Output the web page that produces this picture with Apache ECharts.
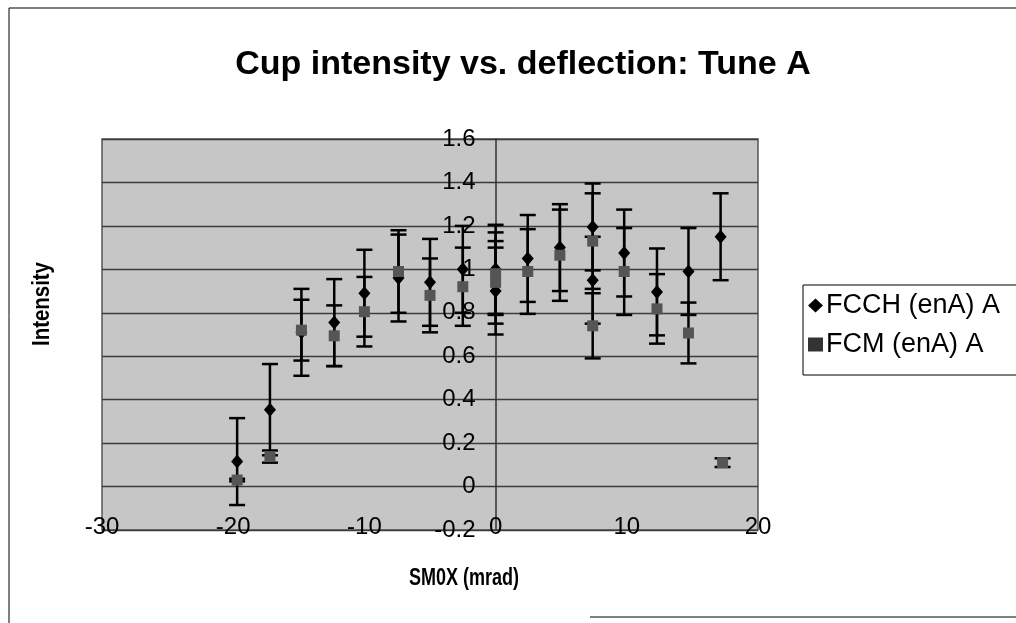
<!DOCTYPE html>
<html>
<head>
<meta charset="utf-8">
<script src="https://cdn.jsdelivr.net/npm/echarts@6/dist/echarts.min.js"></script>
<style>
  html, body { margin: 0; padding: 0; background: #fff; }
  #chart { width: 1016px; height: 623px; }
</style>
</head>
<body>
<div id="chart"></div>
<script>
// values
const fcchX = [-19.7, -17.2, -14.8, -12.3, -10.0, -7.4, -5.0, -2.5, 0, 0, 2.45, 4.9, 7.4, 7.4, 9.8, 12.3, 14.7, 17.15]
const fcchY = [0.115, 0.354, 0.71, 0.755, 0.89, 0.96, 0.94, 1.0, 1.0, 0.9, 1.05, 1.10, 1.195, 0.95, 1.075, 0.896, 0.99, 1.15]
const fcchErr = [0.2, 0.21, 0.2, 0.2, 0.2, 0.2, 0.2, 0.2, 0.205, 0.2, 0.2, 0.2, 0.2, 0.2, 0.2, 0.2, 0.2, 0.2]

const fcmX = [-19.7, -17.2, -14.8, -12.3, -10.0, -7.4, -5.0, -2.5, 0, 0, 2.45, 4.9, 7.4, 7.4, 9.8, 12.3, 14.7, 17.3]
const fcmY = [0.03, 0.138, 0.72, 0.694, 0.805, 0.99, 0.88, 0.92, 0.98, 0.94, 0.99, 1.065, 1.13, 0.74, 0.99, 0.818, 0.707, 0.11]
const fcmErr = [0.006, 0.028, 0.14, 0.14, 0.16, 0.19, 0.17, 0.18, 0.19, 0.19, 0.195, 0.21, 0.22, 0.15, 0.2, 0.16, 0.14, 0.02]

const xTicks = [-30, -20, -10, 0, 10, 20]
const yTicks = [-0.2, 0, 0.2, 0.4, 0.6, 0.8, 1.0, 1.2, 1.4, 1.6]

const FONT = 'Liberation Sans, Arial, sans-serif'

// plot box in pixels
const PLOT_LEFT = 102
const PLOT_RIGHT = 758

function points (xs, ys) {
  return xs.map((x, i) => [x, ys[i]])
}

function bars (xs, ys, errs) {
  return xs.map((x, i) => [x, ys[i], errs[i]])
}

function renderErr (params, api) {
  const x = api.value(0)
  const y = api.value(1)
  const e = api.value(2)
  const top = api.coord([x, y + e])
  const bot = api.coord([x, y - e])
  const w = 8
  const style = { stroke: '#000', lineWidth: 2.5 }
  return {
    type: 'group',
    children: [
      { type: 'line', shape: { x1: top[0], y1: top[1], x2: bot[0], y2: bot[1] }, style },
      { type: 'line', shape: { x1: top[0] - w, y1: top[1], x2: top[0] + w, y2: top[1] }, style },
      { type: 'line', shape: { x1: bot[0] - w, y1: bot[1], x2: bot[0] + w, y2: bot[1] }, style }
    ]
  }
}

// the y axis crosses at x = 0, so shift it right from the plot's left edge
const xMin = xTicks[0]
const xMax = xTicks[xTicks.length - 1]
const yAxisShift = (0 - xMin) / (xMax - xMin) * (PLOT_RIGHT - PLOT_LEFT)

const chart = echarts.init(document.getElementById('chart'))

chart.setOption({
  animation: false,
  backgroundColor: '#fff',
  title: {
    text: 'Cup intensity vs. deflection: Tune A',
    left: 518,
    textAlign: 'center',
    top: 43,
    textStyle: { fontFamily: FONT, fontSize: 34, fontWeight: 'bold', color: '#000' }
  },
  legend: {
    orient: 'vertical',
    left: 803,
    top: 285,
    padding: [7, 24, 17, 5],
    itemGap: 12,
    itemWidth: 15,
    itemHeight: 14,
    backgroundColor: '#fff',
    borderColor: '#000',
    borderWidth: 1,
    borderRadius: 0,
    textStyle: { fontFamily: FONT, fontSize: 27, color: '#000', padding: [0, 0, 0, -2] },
    data: [
      { name: 'FCCH (enA) A', icon: 'diamond' },
      { name: 'FCM (enA) A', icon: 'rect', itemStyle: { color: '#333' } }
    ]
  },
  grid: {
    left: PLOT_LEFT,
    top: 139,
    right: 1016 - PLOT_RIGHT,
    bottom: 93,
    show: true,
    backgroundColor: '#c6c6c6',
    borderColor: '#555',
    borderWidth: 1.5
  },
  xAxis: {
    type: 'value',
    min: xMin,
    max: xMax,
    interval: 10,
    axisLine: { onZero: false, show: false },
    axisTick: { show: false },
    splitLine: { show: false },
    axisLabel: { margin: -15, fontFamily: FONT, fontSize: 24, color: '#000' }
  },
  yAxis: {
    type: 'value',
    position: 'left',
    offset: -yAxisShift,
    min: yTicks[0],
    max: yTicks[yTicks.length - 1],
    interval: 0.2,
    axisLine: { show: true, onZero: false, lineStyle: { color: '#333', width: 1.5 } },
    axisTick: { show: true, length: 8, lineStyle: { color: '#333' } },
    splitLine: { show: true, lineStyle: { color: '#3c3c3c', width: 1.3 } },
    axisLabel: { margin: 20, fontFamily: FONT, fontSize: 24, color: '#000' }
  },
  graphic: [
    { type: 'line', shape: { x1: 9, y1: 8, x2: 9, y2: 623 }, style: { stroke: '#000', lineWidth: 1 } },
    { type: 'line', shape: { x1: 9, y1: 8, x2: 1016, y2: 8 }, style: { stroke: '#000', lineWidth: 1 } },
    { type: 'line', shape: { x1: 590, y1: 617, x2: 1016, y2: 617 }, style: { stroke: '#000', lineWidth: 1 } },
    {
      type: 'text',
      x: 42,
      y: 304,
      rotation: Math.PI / 2,
      scaleX: 0.85,
      style: { text: 'Intensity', font: 'bold 24px ' + FONT, fill: '#000', align: 'center', verticalAlign: 'middle' }
    },
    {
      type: 'text',
      x: 464,
      y: 578,
      scaleX: 0.75,
      style: { text: 'SM0X (mrad)', font: 'bold 24px ' + FONT, fill: '#000', align: 'center', verticalAlign: 'middle' }
    }
  ],
  series: [
    {
      type: 'custom',
      name: 'fcchErr',
      renderItem: renderErr,
      data: bars(fcchX, fcchY, fcchErr),
      z: 2
    },
    {
      type: 'custom',
      name: 'fcmErr',
      renderItem: renderErr,
      data: bars(fcmX, fcmY, fcmErr),
      z: 2
    },
    {
      type: 'scatter',
      name: 'FCCH (enA) A',
      symbol: 'diamond',
      symbolSize: [12, 14],
      itemStyle: { color: '#000', opacity: 1 },
      data: points(fcchX, fcchY),
      z: 3
    },
    {
      type: 'scatter',
      name: 'FCM (enA) A',
      symbol: 'rect',
      symbolSize: 11,
      itemStyle: { color: '#555', opacity: 1 },
      data: points(fcmX, fcmY),
      z: 4
    }
  ]
})
</script>
</body>
</html>
